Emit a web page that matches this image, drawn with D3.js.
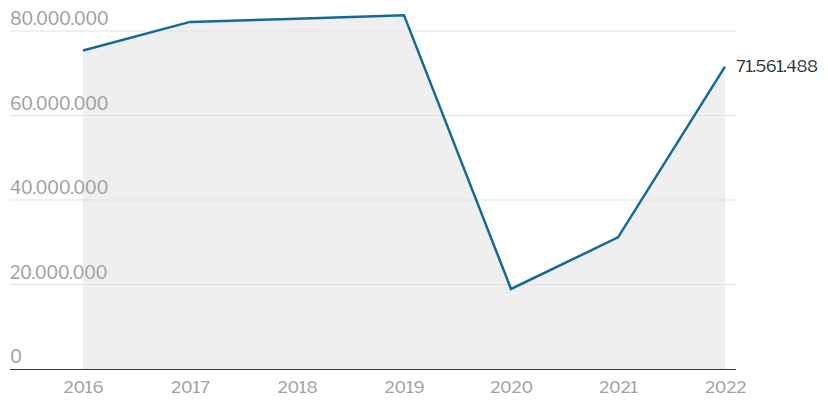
<!DOCTYPE html>
<html>
<head>
<meta charset="utf-8">
<script src="https://cdn.jsdelivr.net/npm/d3@7"></script>
<style>
  html, body { margin: 0; padding: 0; background: #fff; }
  svg { display: block; }
  text { font-family: "Libre Franklin", "Roboto", "Open Sans", sans-serif; }
</style>
</head>
<body>
<svg id="chart" width="828" height="409"></svg>
<script>
const years = [2016, 2017, 2018, 2019, 2020, 2021, 2022];
const values = [75400000, 82150000, 82900000, 83750000, 18950000, 31150000, 71561488];
const yTicks = [0, 20000000, 40000000, 60000000, 80000000];
const lastLabel = "71.561.488";

const svg = d3.select("#chart");
const left = 10, right = 736;
const x = d3.scalePoint().domain(years).range([83, 725]);
const y = d3.scaleLinear().domain([0, 80000000]).range([369, 31]);

const fmt = v => d3.format(",")(v).replace(/,/g, ".");

// area
const data = years.map((yr, i) => ({ yr, v: values[i] }));
svg.append("path").datum(data)
  .attr("fill", "#efefef")
  .attr("d", d3.area().x(d => x(d.yr)).y0(y(0)).y1(d => y(d.v)));

// gridlines
svg.append("g").selectAll("line").data(yTicks.filter(t => t > 0)).join("line")
  .attr("x1", left).attr("x2", right)
  .attr("y1", d => y(d)).attr("y2", d => y(d))
  .attr("stroke", "#e2e2e2").attr("stroke-width", 1);

// y labels
svg.append("g").selectAll("text").data(yTicks).join("text")
  .attr("x", left).attr("y", d => y(d) - 6)
  .attr("fill", "#a0a0a0").attr("font-size", 17.5).attr("font-weight", 400)
  .attr("letter-spacing", "-0.5")
  .text(d => fmt(d));

// line
svg.append("path").datum(data)
  .attr("fill", "none").attr("stroke", "#136a99").attr("stroke-width", 2.5)
  .attr("stroke-linejoin", "miter")
  .attr("d", d3.line().x(d => x(d.yr)).y(d => y(d.v)));

// x axis
const xAxis = d3.axisBottom(x).tickSize(0).tickPadding(8);
const gx = svg.append("g").attr("transform", `translate(0,${y(0)})`).call(xAxis);
gx.select(".domain").remove();
gx.selectAll("text").attr("fill", "#a0a0a0").attr("font-size", 17).attr("font-weight", 400)
  .attr("letter-spacing", "-0.3")
  .attr("font-family", "\"Libre Franklin\", Roboto, sans-serif").attr("dy", "0.95em");
svg.append("line").attr("x1", left).attr("x2", right)
  .attr("y1", y(0) + 0.5).attr("y2", y(0) + 0.5)
  .attr("stroke", "#333").attr("stroke-width", 1.2);

// end label
svg.append("text")
  .attr("x", 736).attr("y", y(values[values.length - 1]))
  .attr("dy", "0.35em")
  .attr("fill", "#333").attr("font-size", 16.5).attr("font-weight", 400)
  .attr("letter-spacing", "-0.5")
  .text(lastLabel);
</script>
</body>
</html>
